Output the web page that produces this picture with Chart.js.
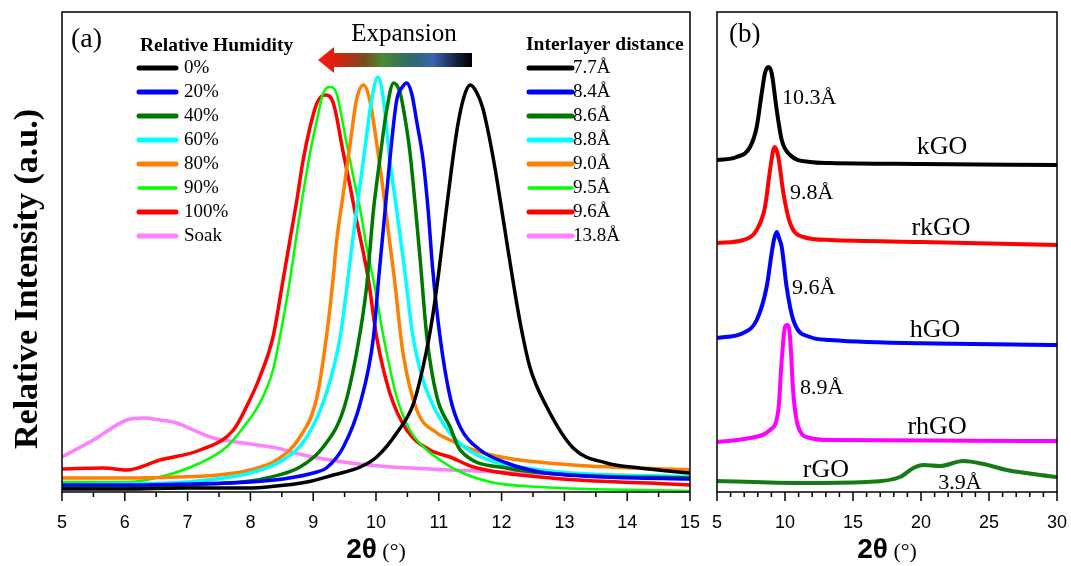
<!DOCTYPE html>
<html>
<head>
<meta charset="utf-8">
<script src="https://cdn.jsdelivr.net/npm/chart.js@4"></script>
<style>
  body { margin: 0; background: #fff; }
  #wrap { position: relative; width: 1071px; height: 566px; }
  #boxA { position: absolute; left: 0; top: 0; width: 700px; height: 566px; }
  #boxB { position: absolute; left: 700px; top: 0; width: 371px; height: 566px; }
</style>
</head>
<body>
<div id="wrap">
  <div id="boxA"><canvas id="chartA"></canvas></div>
  <div id="boxB"><canvas id="chartB"></canvas></div>
</div>
<script>
// panel (a): XRD patterns at each relative humidity, [2theta, intensity]
const humidityLabels = ["0%", "20%", "40%", "60%", "80%", "90%", "100%", "Soak"];
const distanceLabels = ["7.7Å", "8.4Å", "8.6Å", "8.8Å", "9.0Å", "9.5Å", "9.6Å", "13.8Å"];
const colorsA = ["#000000", "#0000ff", "#007800", "#00ffff", "#ff8000", "#00ff00", "#ff0000", "#ff80ff"];

const rh0 = [[5,3],[6,3],[7,4],[8,4],[8.26,5],[8.9,10],[9.32,17],[9.75,25],[10.01,35],[10.33,59],[10.6,89],[10.8,140],[10.9,175],[11,220],[11.1,272],[11.2,322],[11.3,366],[11.4,395],[11.5,407],[11.6,400],[11.7,384],[11.8,356],[11.9,322],[12,283],[12.1,243],[12.2,204],[12.3,168],[12.45,125],[12.72,85],[13.14,44],[13.67,29],[14.2,24],[15,19]];
const rh20 = [[5,7],[6,7],[7,8],[8,10],[8.52,13],[9.06,20],[9.21,24],[9.48,45],[9.75,89],[9.96,155],[10.04,212],[10.12,265],[10.22,332],[10.33,392],[10.42,405],[10.49,409],[10.57,398],[10.65,370],[10.75,332],[10.83,282],[10.9,225],[11.02,155],[11.18,95],[11.34,65],[11.66,42],[12.08,29],[12.61,20],[13.67,15],[15,13]];
const rh40 = [[5,4],[6,5],[7,7],[8,11],[8.26,14],[8.79,25],[9.16,45],[9.48,82],[9.69,139],[9.85,205],[9.96,282],[10.06,332],[10.17,382],[10.28,409],[10.38,400],[10.44,382],[10.54,340],[10.62,290],[10.7,235],[10.81,155],[10.97,95],[11.18,65],[11.34,42],[12.08,24],[13.14,17],[15,14]];
const rh60 = [[5,7],[6,8],[7,10],[7.99,19],[8.52,32],[8.9,55],[9.21,99],[9.43,155],[9.59,232],[9.69,282],[9.8,332],[9.93,392],[10.03,415],[10.12,392],[10.22,332],[10.33,282],[10.45,225],[10.59,155],[10.75,112],[10.97,79],[11.18,59],[11.55,39],[12.61,22],[15,15]];
const rh80 = [[5,14],[6,14],[6.83,15],[7.5,17],[7.99,22],[8.42,32],[8.79,55],[9.06,95],[9.21,155],[9.32,215],[9.37,249],[9.48,299],[9.59,349],[9.69,392],[9.8,407],[9.9,392],[10.01,349],[10.12,299],[10.22,249],[10.29,215],[10.43,139],[10.65,82],[10.97,59],[11.18,52],[11.55,42],[12.08,34],[13.14,27],[15,22]];
const rh90 = [[5,10],[6.03,10],[6.56,15],[7.2,29],[7.62,45],[7.94,69],[8.15,89],[8.36,122],[8.52,172],[8.63,212],[8.74,259],[8.84,299],[8.95,339],[9.06,372],[9.16,399],[9.27,405],[9.37,399],[9.53,349],[9.64,315],[9.75,282],[9.85,245],[9.96,212],[10.12,155],[10.33,95],[10.54,62],[10.81,42],[11.02,32],[11.28,22],[11.82,10],[12.61,5],[15,1]];
const rh100 = [[5,23],[5.66,24],[6.03,22],[6.56,32],[7.2,42],[7.73,62],[7.99,92],[8.15,115],[8.36,155],[8.52,212],[8.63,252],[8.74,292],[8.84,332],[8.95,365],[9.06,389],[9.19,397],[9.32,389],[9.48,339],[9.59,305],[9.69,272],[9.8,239],[9.88,212],[10.01,155],[10.22,99],[10.49,62],[10.86,42],[11.18,35],[11.55,25],[12.61,15],[15,7]];
const soak = [[5,35],[5.5,52],[6.03,72],[6.3,74],[6.56,72],[6.83,69],[7.09,62],[7.41,54],[7.89,49],[8.42,44],[8.84,37],[9.48,30],[10.06,26],[11.18,22],[12.61,19],[15,15]];
const seriesA = [rh0, rh20, rh40, rh60, rh80, rh90, rh100, soak];

// panel (b): stacked patterns of the GO samples
const namesB = ["kGO", "rkGO", "hGO", "rhGO", "rGO"];
const spacingB = ["10.3Å", "9.8Å", "9.6Å", "8.9Å", "3.9Å"];
const colorsB = ["#000000", "#ff0000", "#0000ff", "#ff00ff", "#167a16"];

const kGO = [[5,332],[6.45,335],[7.43,345],[7.92,365],[8.29,399],[8.53,419],[8.77,425],[9.02,419],[9.39,382],[9.76,352],[10.37,337],[11.84,330],[13.3,329],[20,328],[30,327]];
const rkGO = [[5,249],[6.93,252],[7.92,262],[8.53,285],[8.9,322],[9.14,342],[9.26,345],[9.51,335],[9.88,299],[10.37,269],[11.35,255],[13.3,252],[20,250],[30,247]];
const hGO = [[5,154],[6.93,159],[7.92,172],[8.65,205],[9.02,239],[9.2,253],[9.39,260],[9.58,253],[9.76,245],[10.12,205],[10.61,172],[11.84,155],[13.3,152],[16,150],[30,147]];
const rhGO = [[5,50],[7.43,54],[8.9,62],[9.51,82],[9.76,132],[10,165],[10.17,167],[10.37,155],[10.61,99],[10.98,65],[11.84,54],[13.3,52],[30,51]];
const rGO = [[5,11],[11.1,9],[16,10],[18.46,15],[19.44,24],[20.2,27],[21.4,26],[23.1,31],[24.6,28],[26.3,22],[30,15]];
const seriesB = [kGO, rkGO, hGO, rhGO, rGO];

const serif = '"Liberation Serif", "Times New Roman", serif';
const sans = '"Liberation Sans", Arial, sans-serif';

function toPoints(arr) {
  return arr.map(p => ({ x: p[0], y: p[1] }));
}

// box round the plot, outward ticks (short for minor) and the 2θ (°) title
const frame = {
  id: "frame",
  afterDraw(chart) {
    const ctx = chart.ctx;
    const a = chart.chartArea;
    const x = chart.scales.x;
    ctx.save();
    ctx.strokeStyle = "#000";
    ctx.lineWidth = 1.5;
    ctx.strokeRect(a.left, a.top, a.right - a.left, a.bottom - a.top);
    x.ticks.forEach(t => {
      const px = x.getPixelForValue(t.value);
      const len = t.label === "" ? 5 : 9;
      ctx.beginPath();
      ctx.moveTo(px, a.bottom);
      ctx.lineTo(px, a.bottom + len);
      ctx.stroke();
    });
    ctx.fillStyle = "#000";
    ctx.textBaseline = "alphabetic";
    ctx.font = "bold 28px " + sans;
    const w1 = ctx.measureText("2θ").width;
    ctx.font = "22px " + serif;
    const w2 = ctx.measureText(" (°)").width;
    const cx = (a.left + a.right) / 2;
    const start = cx - (w1 + w2) / 2;
    ctx.font = "bold 28px " + sans;
    ctx.fillText("2θ", start, 558);
    ctx.font = "22px " + serif;
    ctx.fillText(" (°)", start + w1, 558);
    ctx.restore();
  }
};

const panelA = {
  id: "panelA",
  afterDraw(chart) {
    const ctx = chart.ctx;
    ctx.save();
    ctx.fillStyle = "#000";
    ctx.textBaseline = "middle";
    ctx.font = "28px " + serif;
    ctx.fillText("(a)", 71, 40);

    ctx.font = "bold 19.5px " + serif;
    ctx.fillText("Relative Humidity", 140, 46);
    ctx.fillText("Interlayer distance", 526, 45);

    ctx.font = "19px " + serif;
    ctx.lineCap = "round";
    humidityLabels.forEach((lab, i) => {
      const y = 68 + i * 24;
      ctx.strokeStyle = colorsA[i];
      ctx.lineWidth = i === 5 ? 3.5 : 5;
      ctx.beginPath();
      ctx.moveTo(139, y);
      ctx.lineTo(176, y);
      ctx.stroke();
      ctx.beginPath();
      ctx.moveTo(529, y);
      ctx.lineTo(572, y);
      ctx.stroke();
      ctx.fillText(lab, 184, y);
      ctx.fillText(distanceLabels[i], 573, y);
    });

    // Expansion arrow
    const g = ctx.createLinearGradient(318, 0, 472, 0);
    g.addColorStop(0, "#ff1a10");
    g.addColorStop(0.12, "#d82010");
    g.addColorStop(0.3, "#7a4a20");
    g.addColorStop(0.42, "#4a8a30");
    g.addColorStop(0.6, "#2f6a6a");
    g.addColorStop(0.75, "#3a64ae");
    g.addColorStop(0.9, "#142040");
    g.addColorStop(1, "#000000");
    ctx.fillStyle = g;
    ctx.beginPath();
    ctx.moveTo(318, 60);
    ctx.lineTo(334, 47);
    ctx.lineTo(334, 53);
    ctx.lineTo(472, 53);
    ctx.lineTo(472, 67);
    ctx.lineTo(334, 67);
    ctx.lineTo(334, 73);
    ctx.closePath();
    ctx.fill();

    ctx.fillStyle = "#000";
    ctx.textAlign = "center";
    ctx.font = "25px " + serif;
    ctx.fillText("Expansion", 404, 34);

    ctx.translate(28, 279);
    ctx.rotate(-Math.PI / 2);
    ctx.font = "bold 34px " + serif;
    ctx.fillText("Relative Intensity (a.u.)", 0, 0);
    ctx.restore();
  }
};

const panelB = {
  id: "panelB",
  afterDraw(chart) {
    const ctx = chart.ctx;
    const x = chart.scales.x;
    const y = chart.scales.y;
    ctx.save();
    ctx.fillStyle = "#000";
    ctx.textBaseline = "middle";
    ctx.font = "27px " + serif;
    ctx.fillText("(b)", 29, 35);
    // [text, 2theta, intensity, align]
    const notes = [
      [spacingB[0], 9.78, 394, "left"], [namesB[0], 21.54, 345, "center"],
      [spacingB[1], 10.37, 299, "left"], [namesB[1], 21.47, 264, "center"],
      [spacingB[2], 10.51, 204, "left"], [namesB[2], 21.03, 162, "center"],
      [spacingB[3], 11.1, 104, "left"], [namesB[3], 21.18, 65, "center"],
      [namesB[4], 13.01, 22, "center"], [spacingB[4], 22.87, 9, "center"]
    ];
    notes.forEach(n => {
      ctx.font = (n[3] === "left" || n[0] === spacingB[4] ? "22px " : "26px ") + serif;
      ctx.textAlign = n[3];
      ctx.fillText(n[0], x.getPixelForValue(n[1]), y.getPixelForValue(n[2]));
    });
    ctx.restore();
  }
};

function xScale(min, max, step, every) {
  return {
    type: "linear",
    min: min,
    max: max,
    afterFit(s) { s.height = 74; },
    grid: { display: false, drawTicks: true, tickLength: 20 },
    border: { display: false },
    ticks: {
      stepSize: step,
      autoSkip: false,
      maxRotation: 0,
      padding: 0,
      color: "#000",
      font: { family: sans, size: 18 },
      callback: v => (Math.abs(v / every - Math.round(v / every)) < 1e-6 ? v : "")
    }
  };
}

new Chart(document.getElementById("chartA"), {
  type: "line",
  data: {
    datasets: seriesA.map((s, i) => ({
      label: humidityLabels[i],
      data: toPoints(s),
      borderColor: colorsA[i],
      borderWidth: i === 5 ? 2.5 : 3.5,
      pointRadius: 0,
      cubicInterpolationMode: "monotone",
      fill: false
    }))
  },
  options: {
    responsive: true,
    maintainAspectRatio: false,
    animation: false,
    layout: { padding: { left: 62, right: 10, top: 12, bottom: 0 } },
    plugins: { legend: { display: false }, tooltip: { enabled: false } },
    scales: {
      x: xScale(5, 15, 0.5, 1),
      y: { display: false, min: 0, max: 480 }
    }
  },
  plugins: [frame, panelA]
});

new Chart(document.getElementById("chartB"), {
  type: "line",
  data: {
    datasets: seriesB.map((s, i) => ({
      label: namesB[i],
      data: toPoints(s),
      borderColor: colorsB[i],
      borderWidth: 4,
      pointRadius: 0,
      cubicInterpolationMode: "monotone",
      fill: false
    }))
  },
  options: {
    responsive: true,
    maintainAspectRatio: false,
    animation: false,
    layout: { padding: { left: 17, right: 14, top: 12, bottom: 0 } },
    plugins: { legend: { display: false }, tooltip: { enabled: false } },
    scales: {
      x: xScale(5, 30, 1, 5),
      y: { display: false, min: 0, max: 480 }
    }
  },
  plugins: [frame, panelB]
});
</script>
</body>
</html>
